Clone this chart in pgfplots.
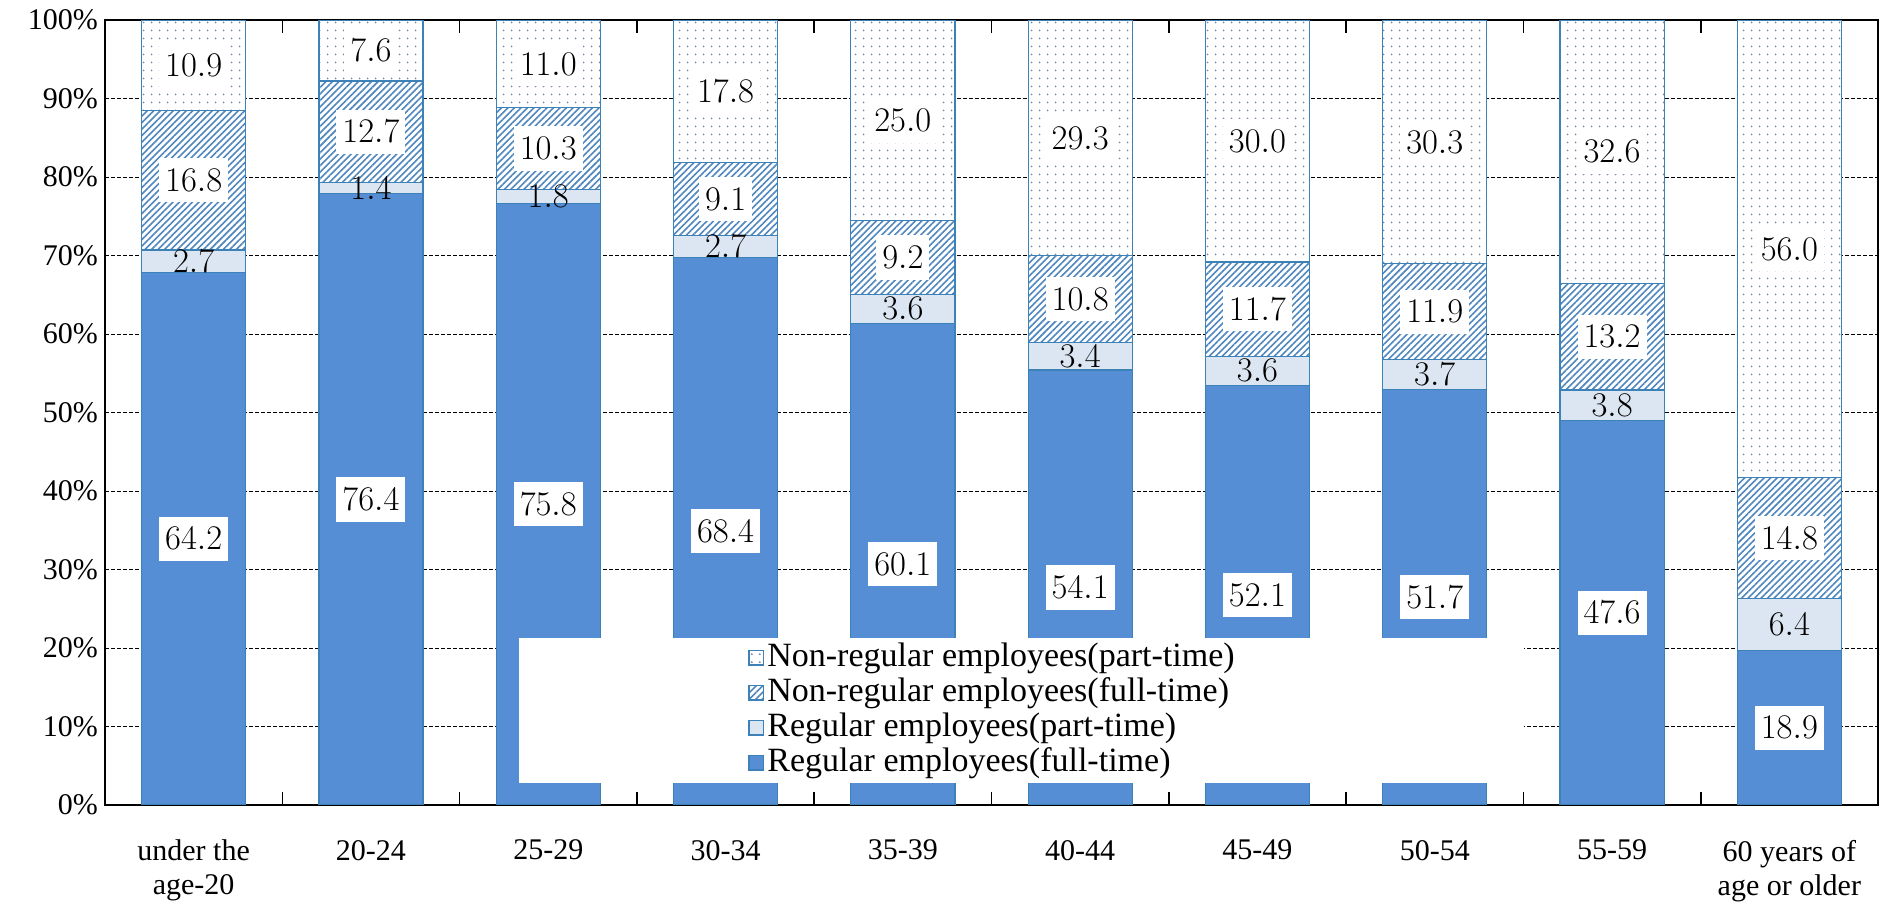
\documentclass[border=0pt]{standalone}
\usepackage{fontspec}
\setmainfont{Liberation Serif}
\usepackage{pgfplots}
\usepackage{pgfplotstable}
\pgfplotsset{compat=1.18}
\usetikzlibrary{patterns.meta,calc}

\definecolor{rfull}{RGB}{85,142,213}
\definecolor{rpart}{RGB}{220,230,242}
\definecolor{edge}{RGB}{60,130,185}
\definecolor{hatch}{RGB}{80,135,190}
\definecolor{dotc}{RGB}{120,140,170}

\pgfplotstableread{
x rf rp nf np
0 64.2 2.7 16.8 10.9
1 76.4 1.4 12.7 7.6
2 75.8 1.8 10.3 11.0
3 68.4 2.7 9.1 17.8
4 60.1 3.6 9.2 25.0
5 54.1 3.4 10.8 29.3
6 52.1 3.6 11.7 30.0
7 51.7 3.7 11.9 30.3
8 47.6 3.8 13.2 32.6
9 18.9 6.4 14.8 56.0
}\datatable
\pgfplotstablecreatecol[create col/expr={100*\thisrow{rf}/(\thisrow{rf}+\thisrow{rp}+\thisrow{nf}+\thisrow{np})}]{rfn}\datatable
\pgfplotstablecreatecol[create col/expr={100*\thisrow{rp}/(\thisrow{rf}+\thisrow{rp}+\thisrow{nf}+\thisrow{np})}]{rpn}\datatable
\pgfplotstablecreatecol[create col/expr={100*\thisrow{nf}/(\thisrow{rf}+\thisrow{rp}+\thisrow{nf}+\thisrow{np})}]{nfn}\datatable
\pgfplotstablecreatecol[create col/expr={100*\thisrow{np}/(\thisrow{rf}+\thisrow{rp}+\thisrow{nf}+\thisrow{np})}]{npn}\datatable

\begin{document}
\begin{tikzpicture}[font=\fontsize{15}{17}\selectfont]
\begin{axis}[
  scale only axis, width=886.5pt, height=392.5pt,
  ybar stacked, bar width=0.587,
  xmin=-0.5, xmax=9.5, ymin=0, ymax=100.03,
  xtick={0,...,9},
  xticklabels={{under the\\age-20},20-24,25-29,30-34,35-39,40-44,45-49,50-54,55-59,{60 years of\\age or older}},
  xticklabel style={align=center, yshift=-14pt},
  major x tick style={draw=none},
  minor xtick={0.5,1.5,...,8.5},
  minor x tick style={black, line width=0.8pt},
  minor tick length=6.5pt, tick align=inside,
  ytick={0,10,...,100},
  yticklabels={0\%,10\%,20\%,30\%,40\%,50\%,60\%,70\%,80\%,90\%,100\%},
  ytick style={draw=none},
  ymajorgrids, grid style={black, dash pattern=on 2pt off 1pt, line width=0.5pt},
  axis line style={black, line width=0.8pt},
  point meta=explicit,
  nodes near coords={\pgfmathprintnumber[fixed,fixed zerofill,precision=1]{\pgfplotspointmeta}},
  every node near coord/.append style={anchor=center, text=black, inner xsep=3pt, inner ysep=5.5pt,
     font=\fontsize{16}{18}\selectfont},
  reverse legend,
  legend cell align=left,
  legend style={at={(0.233,0.028)}, anchor=south west, draw=none, fill=white,
     minimum width=502.5pt, minimum height=72.5pt,
     font=\fontsize{17}{19}\selectfont, row sep=0pt, inner sep=0pt,
     nodes={inner sep=1.5pt, minimum width=0pt, minimum height=0pt, text height=11.5pt, text depth=3pt}},
  legend image code/.code={\draw[#1] (0pt,-3.7pt) rectangle (7.4pt,3.7pt);},
]
\addplot[fill=rfull, draw=edge, line width=0.6pt,
  every node near coord/.append style={fill=white}]
  table[x=x, y=rfn, meta=rf]{\datatable};
\addlegendentry{Regular employees(full-time)\hspace*{28pt}}
\addplot[fill=rpart, draw=edge, line width=0.6pt,
  every node near coord/.append style={fill=none}]
  table[x=x, y=rpn, meta=rp]{\datatable};
\addlegendentry{Regular employees(part-time)}
\addplot[fill=white, draw=edge, line width=0.6pt,
  postaction={pattern color=hatch, pattern={Lines[angle=45,distance=2.3pt,line width=0.8pt]}},
  every node near coord/.append style={fill=white}]
  table[x=x, y=nfn, meta=nf]{\datatable};
\addlegendentry{Non-regular employees(full-time)}
\addplot[fill=white, draw=edge, line width=0.6pt,
  postaction={pattern color=dotc, pattern={Dots[distance=4pt,radius=0.55pt]}},
  every node near coord/.append style={fill=white}]
  table[x=x, y=npn, meta=np]{\datatable};
\addlegendentry{Non-regular employees(part-time)\hspace*{28pt}}
\end{axis}
\pgfresetboundingbox
\path ($(current axis.south west)+(-52.5pt,-48.5pt)$) rectangle ($(current axis.north east)+(3.5pt,10pt)$);
\end{tikzpicture}
\end{document}
